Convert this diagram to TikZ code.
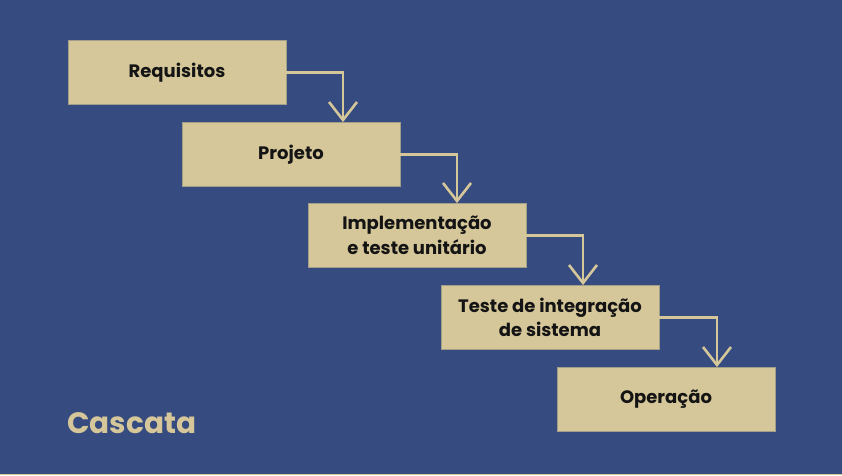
\documentclass[tikz,border=0pt]{standalone}
\usepackage{fontspec}
\setmainfont{Poppins}
\usetikzlibrary{arrows.meta}
\definecolor{bg}{HTML}{364B7F}
\definecolor{beige}{HTML}{D5C799}
\definecolor{edge}{HTML}{A39E88}
\definecolor{ink}{HTML}{141414}
\begin{document}
\begin{tikzpicture}[x=1pt,y=-1pt,
  stepbox/.style={draw=edge, line width=0.8pt, fill=beige, minimum width=218pt, minimum height=64pt,
    inner sep=0pt, align=center, text=ink, font=\fontsize{18}{24.5}\selectfont\bfseries},
  flow/.style={draw=beige, line width=2.6pt, -{Straight Barb[length=18pt,width=28pt,line width=2.6pt]}}]
\fill[bg] (0,0) rectangle (842,475);
\useasboundingbox (0,0) rectangle (842,475);
\fill[beige] (0,473.5) rectangle (842,475);
\node[stepbox] (a) at (177,72.5) {Requisitos};
\node[stepbox] (b) at (291,154.5) {Projeto};
\node[stepbox] (c) at (417,235.5) {Implementação\\e teste unitário};
\node[stepbox] (d) at (550,317.5) {Teste de integração\\de sistema};
\node[stepbox] (e) at (666,399.5) {Operação};
\draw[flow] (a.east) -| (b.north -| 343,0);
\draw[flow] (b.east) -| (c.north -| 457,0);
\draw[flow] (c.east) -| (d.north -| 583,0);
\draw[flow] (d.east) -| (e.north -| 717,0);
\node[anchor=base west, inner sep=0pt, text=beige, font=\fontsize{29.5}{32}\selectfont\bfseries] (t) at (67,433) {Cascata};
\end{tikzpicture}
\end{document}
